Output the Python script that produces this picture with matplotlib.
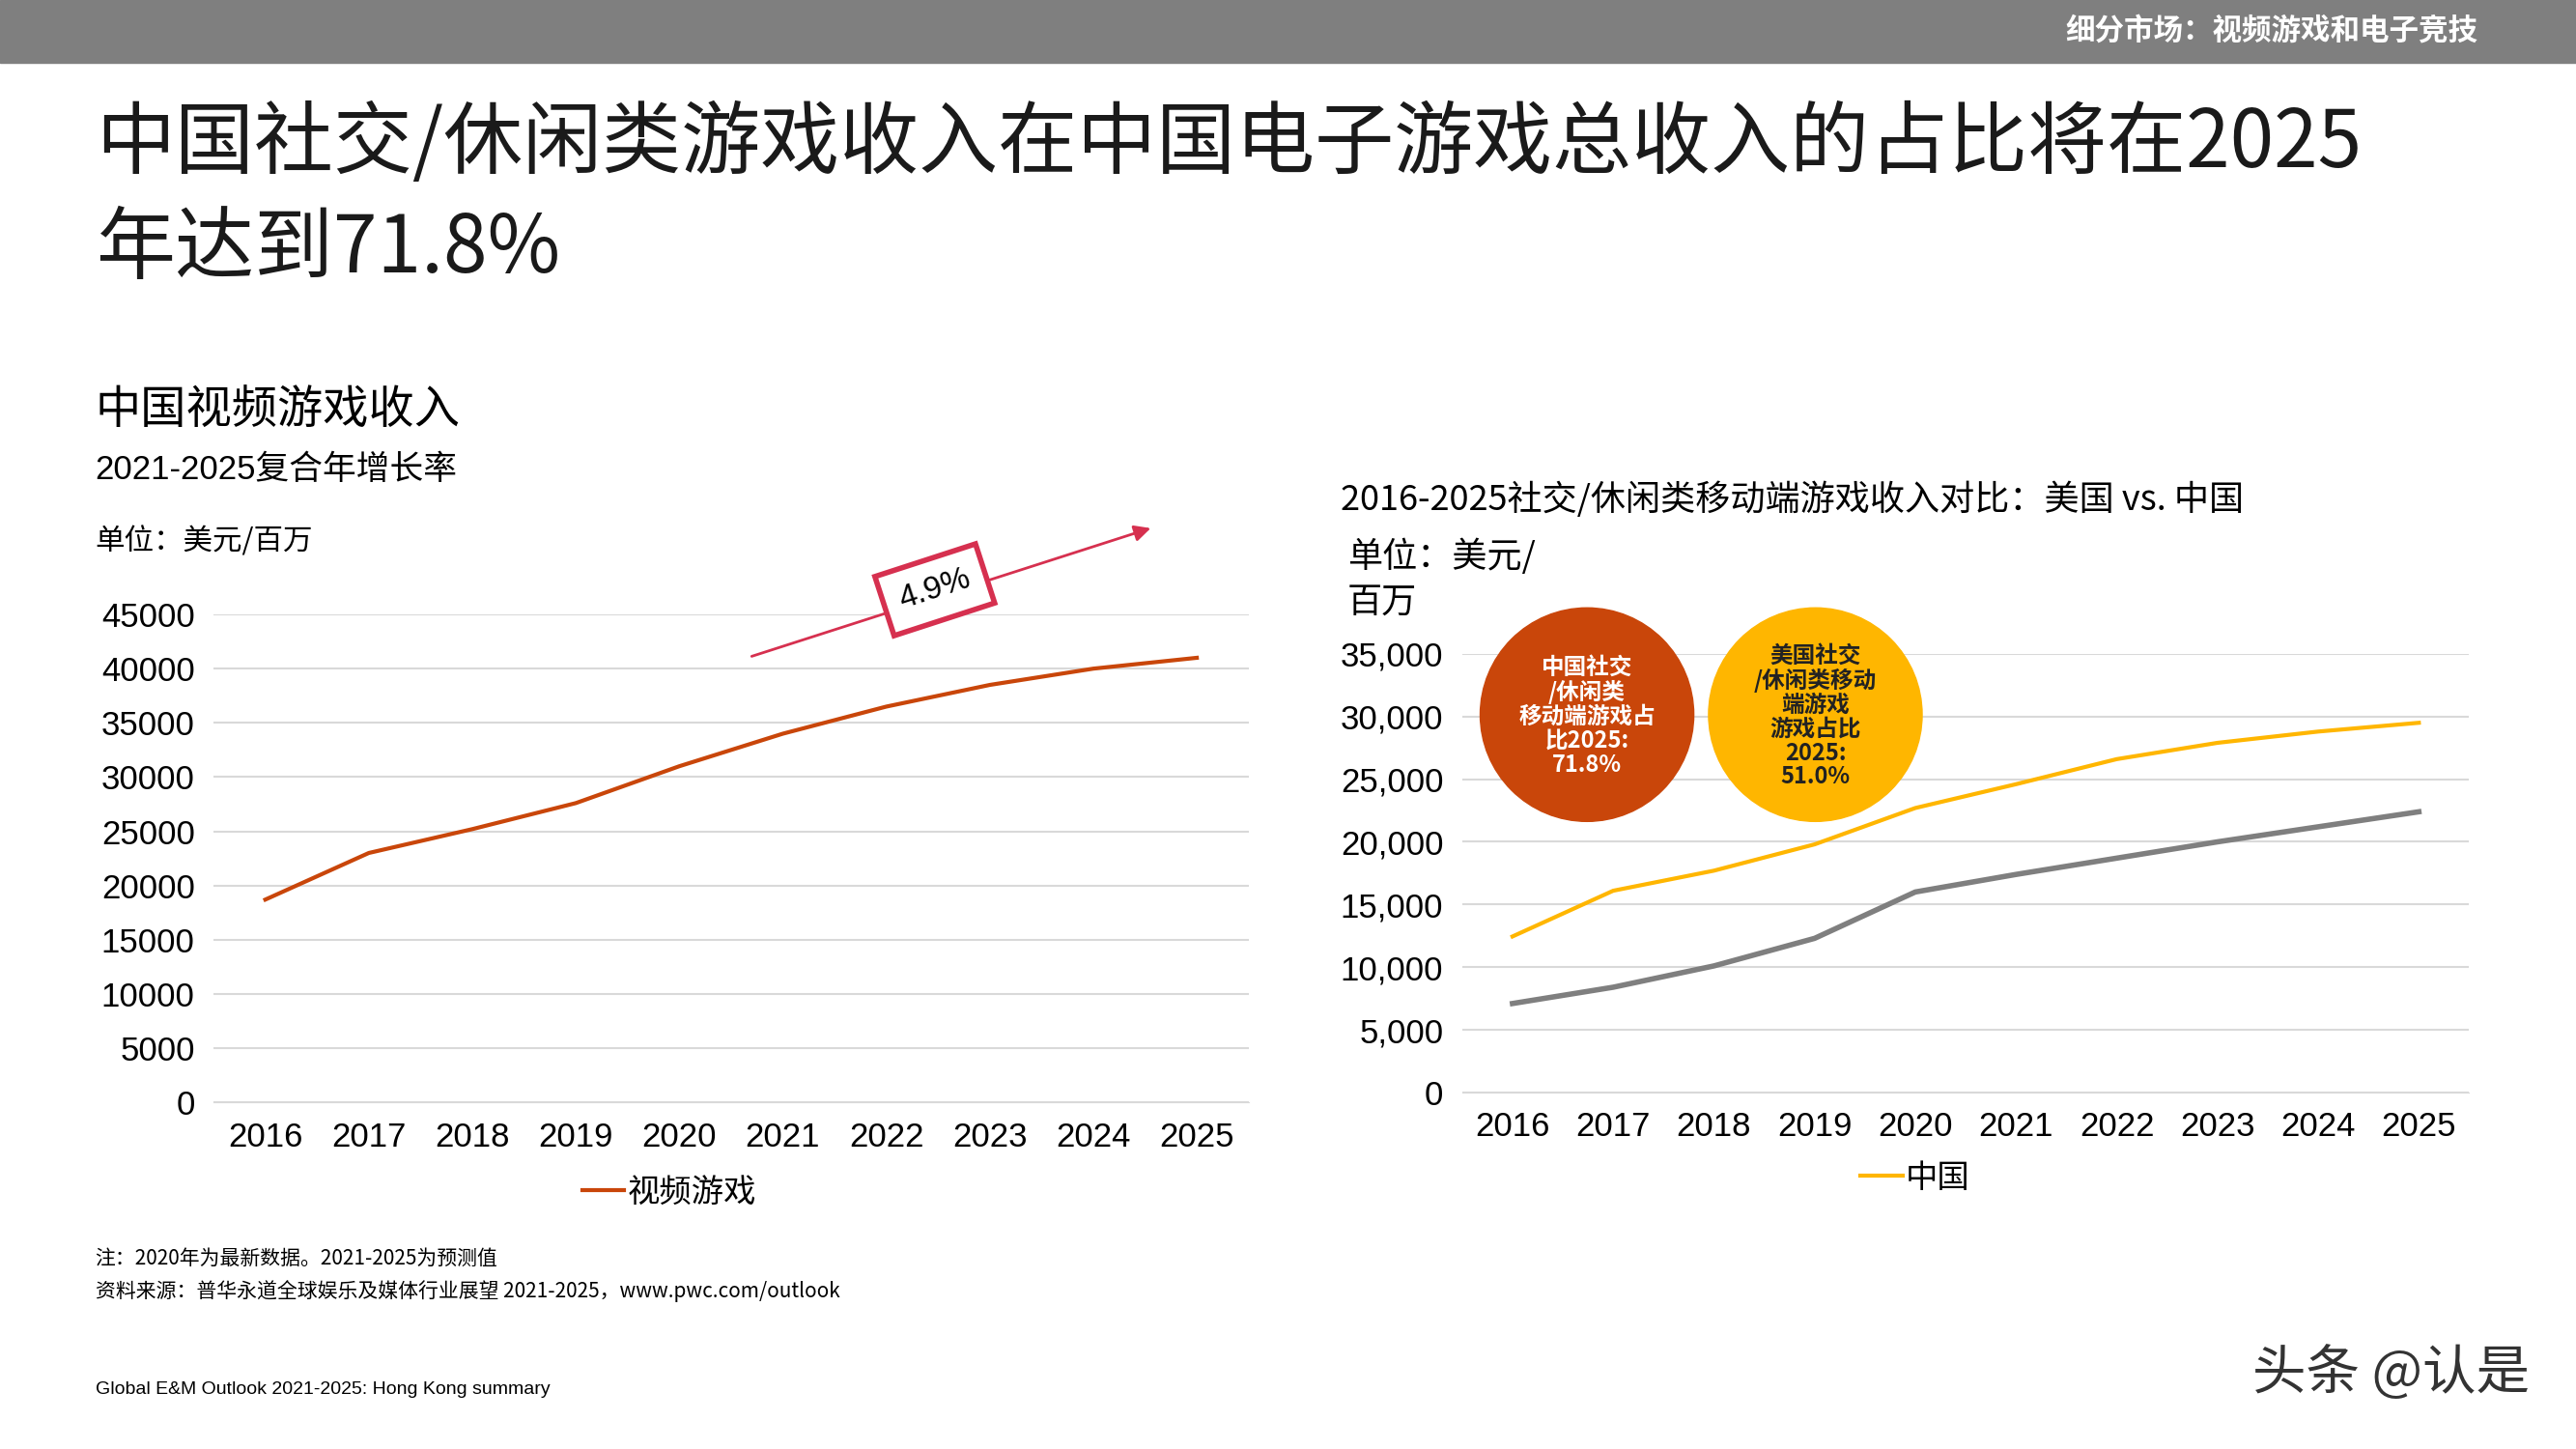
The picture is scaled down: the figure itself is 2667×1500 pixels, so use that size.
import matplotlib.pyplot as plt
from matplotlib.patches import Rectangle, Ellipse, FancyArrowPatch

plt.rcParams['font.family'] = ['Noto Sans CJK SC', 'DejaVu Sans']
ARIAL = ['Liberation Sans', 'Noto Sans CJK SC']

years = ['2016', '2017', '2018', '2019', '2020', '2021', '2022', '2023', '2024', '2025']
video_games = [18700, 23000, 25200, 27600, 31000, 34000, 36500, 38500, 40000, 41000]
china_social = [12450, 16100, 17700, 19800, 22700, 24600, 26600, 27900, 28800, 29500]
us_social = [7100, 8400, 10100, 12300, 16000, 17400, 18700, 20000, 21200, 22400]

W, H = 1568, 882
def fx(x): return x / W
def fy(y): return 1 - y / H

fig = plt.figure(figsize=(26.67, 15), dpi=100)
fig.patches.append(Rectangle((0, fy(38)), 1, 38 / H, transform=fig.transFigure, color='#7f7f7f', zorder=0))
fig.text(fx(1508), fy(19), '细分市场：视频游戏和电子竞技', color='white', fontsize=22, fontweight='bold', ha='right', va='center')

fig.text(fx(58), fy(88), '中国社交/休闲类游戏收入在中国电子游戏总收入的占比将在2025', fontsize=59, va='center', color='#1a1a1a')
fig.text(fx(58), fy(152), '年达到71.8%', fontsize=59, va='center', color='#1a1a1a')

fig.text(fx(58), fy(250), '中国视频游戏收入', fontsize=34, va='center')
fig.text(fx(58), fy(286), '2021-2025复合年增长率', fontsize=25, va='center', family=ARIAL)
fig.text(fx(58), fy(330), '单位：美元/百万', fontsize=22, va='center')

def style(ax):
    ax.set_xlim(-0.5, 9.5)
    ax.set_xticks(range(len(years)))
    ax.set_xticklabels(years)
    ax.grid(axis='y', color='#d9d9d9', lw=1.5)
    ax.set_axisbelow(True)
    for s in ['top', 'right', 'left']:
        ax.spines[s].set_visible(False)
    ax.spines['bottom'].set_color('#d9d9d9')
    ax.tick_params(length=0, labelsize=25, pad=14)
    for lab in ax.get_xticklabels() + ax.get_yticklabels():
        lab.set_family(ARIAL)

# left chart
ax1 = fig.add_axes([fx(130), fy(671), fx(760) - fx(130), (671 - 374) / H])
x = range(len(years))
ax1.plot(x, video_games, color='#C9460A', lw=3, label='视频游戏')
ax1.set_ylim(0, 45000)
ax1.set_yticks(range(0, 45001, 5000))
style(ax1)
ax1.legend(loc='upper center', bbox_to_anchor=(0.44, -0.09), frameon=False, fontsize=24,
           handlelength=1.3, handletextpad=0.1)

fig.patches.append(FancyArrowPatch((fx(456), fy(400)), (fx(702), fy(321)), transform=fig.transFigure,
                                   arrowstyle='-|>', mutation_scale=25, color='#D6304F', lw=2))
fig.text(fx(569), fy(359), '4.9%', fontsize=24, rotation=18, ha='center', va='center', family=ARIAL,
         bbox=dict(boxstyle='square,pad=0.5', fc='white', ec='#D6304F', lw=4))

# right chart
fig.text(fx(816), fy(304), '2016-2025社交/休闲类移动端游戏收入对比：美国 vs. 中国', fontsize=26, va='center')
fig.text(fx(820), fy(339), '单位：美元/', fontsize=26, va='center')
fig.text(fx(820), fy(367), '百万', fontsize=26, va='center')

ax2 = fig.add_axes([fx(890), fy(665), fx(1503) - fx(890), (665 - 398) / H])
ax2.plot(x, china_social, color='#FFB600', lw=3, label='中国')
ax2.plot(x, us_social, color='#7f7f7f', lw=4)
ax2.set_ylim(0, 35000)
ax2.set_yticks(range(0, 35001, 5000))
ax2.set_yticklabels(['0'] + [f'{v:,}' for v in range(5000, 35001, 5000)])
style(ax2)
ax2.legend(loc='upper center', bbox_to_anchor=(0.45, -0.09), frameon=False, fontsize=24,
           handlelength=1.3, handletextpad=0.1)

r = 65
for cx, col, txt in [(966, '#C9460A', '中国社交\n/休闲类\n移动端游戏占\n比2025:\n71.8%'),
                     (1105, '#FFB600', '美国社交\n/休闲类移动\n端游戏\n游戏占比\n2025:\n51.0%')]:
    fig.patches.append(Ellipse((fx(cx), fy(435)), 2 * r / W, 2 * r / H, transform=fig.transFigure,
                               color=col, zorder=5))
    fig.text(fx(cx), fy(436), txt, color='white' if col == '#C9460A' else '#222222', fontsize=17,
             fontweight='bold', ha='center', va='center', linespacing=1.05, zorder=6)

fig.text(fx(58), fy(766), '注：2020年为最新数据。2021-2025为预测值', fontsize=15, va='center')
fig.text(fx(58), fy(786), '资料来源：普华永道全球娱乐及媒体行业展望 2021-2025，www.pwc.com/outlook', fontsize=15, va='center')
fig.text(fx(58), fy(846), 'Global E&M Outlook 2021-2025: Hong Kong summary', fontsize=14, va='center', family=ARIAL)
fig.text(fx(1540), fy(836), '头条 @认是', fontsize=40, ha='right', va='center', color='#333333')

fig.savefig('out.png', dpi=100)
